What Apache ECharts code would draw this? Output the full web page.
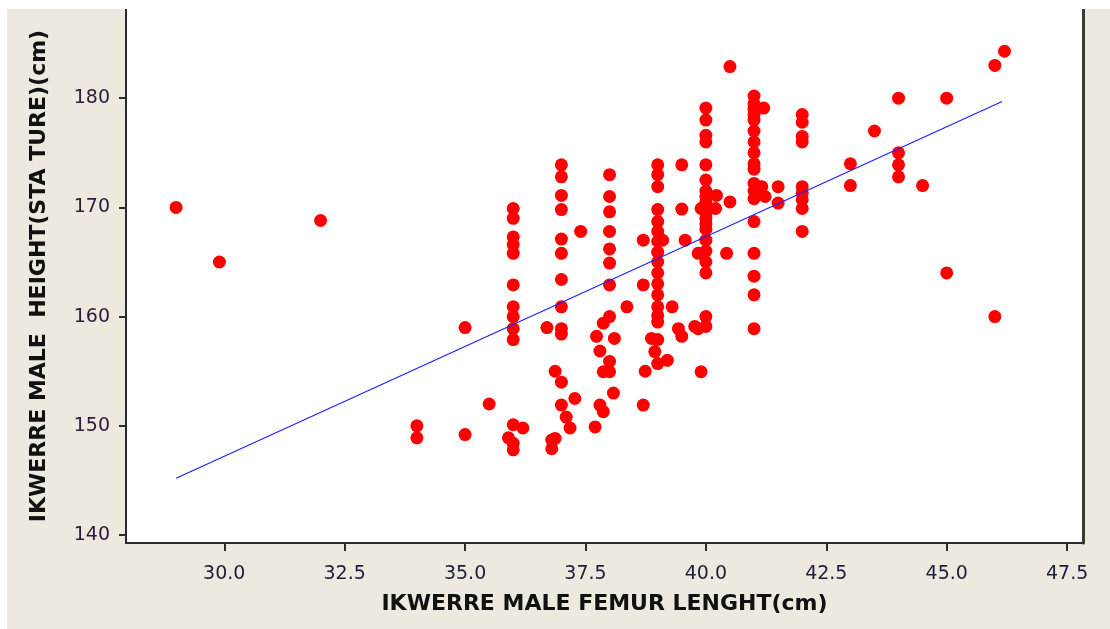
<!doctype html>
<html><head><meta charset="utf-8">
<script src="https://cdn.jsdelivr.net/npm/echarts@6/dist/echarts.min.js"></script>
</head>
<body style="margin:0;background:#ffffff;width:1110px;height:629px;overflow:hidden">
<div id="chart" style="position:absolute;left:7px;top:9px;width:1103px;height:620px;background:#EDE9DF"></div>
<script type="text/javascript">
// femur length (cm) and stature (cm), one entry per man
var femur = [
    29, 29.9, 32, 34, 34, 35, 35, 35.5,
    36, 36, 36, 36, 36, 36, 36, 36, 36, 36, 36, 36, 36, 36.2, 35.9,
    36.7, 36.8, 36.8, 36.87,
    37, 37, 37, 37, 37, 37, 37, 37, 37, 37, 37, 37, 37.1, 37.18, 36.87, 37.28, 37.4,
    38, 38, 38, 38, 38, 38, 38,
    38, 37.87, 38.1, 37.73, 37.8, 38, 37.87, 38, 38.08, 37.8, 37.87, 37.7,
    38.36, 38.7, 38.7, 38.7, 38.74, 38.87, 38.94,
    39, 39, 39, 39, 39, 39, 39, 39, 39, 39, 39, 39, 39, 39, 39, 39, 39, 39.2,
    39.1, 39.3, 39.5, 39.5, 39.57, 39.43, 39.5, 39.84, 39.9,
    40, 40, 40, 40, 40, 40, 40, 40, 40, 40, 40, 40, 40, 40, 40, 40, 40, 40, 40, 40,
    39.77, 40.22, 39.9, 40.2, 40.5, 40.43, 39.84, 40.5,
    41, 41, 41, 41, 41, 41, 41, 41, 41, 41, 41, 41, 41, 41, 41, 41, 41, 41,
    41.2, 41.16, 41.23, 41.5, 41.5,
    42, 42, 42, 42, 42, 42, 42, 42, 42,
    43, 43, 43.5, 44, 44, 44, 44, 44.5, 45, 45, 46, 46.2, 46
];
var stature = [
    170, 165, 168.8, 150, 148.9, 159, 149.2, 152,
    169.9, 169, 167.3, 166.6, 165.8, 162.9, 160.9, 160, 158.9, 157.9, 150.1, 147.8, 148.4, 149.8, 148.9,
    159, 147.9, 148.7, 155,
    173.9, 172.8, 171.1, 169.8, 167.1, 165.8, 163.4, 160.9, 158.9, 158.4, 154, 151.9, 150.8, 149.8, 148.85, 152.5, 167.8,
    173, 171, 169.6, 167.8, 166.2, 164.9, 162.9,
    160, 159.4, 158, 158.2, 156.85, 155.9, 154.95, 154.95, 153, 151.9, 151.3, 149.9,
    160.9, 167, 162.9, 151.9, 155, 158, 156.8,
    173.9, 173, 171.9, 169.8, 168.7, 167.8, 166.9, 165.9, 165, 164, 163, 162, 160.9, 160.1, 159.5, 157.9, 155.7, 156,
    167, 160.9, 173.9, 169.85, 167, 158.9, 158.2, 158.9, 154.95,
    179.1, 178, 176.6, 176, 173.9, 172.5, 171.5, 171, 170.5, 170, 169.5, 169, 168.5, 168, 167, 166, 165, 164, 160, 159.1,
    159.1, 171.1, 169.9, 169.9, 170.5, 165.8, 165.8, 182.9,
    180.2, 179.5, 179, 178.5, 178, 177, 176, 175, 174, 173.5, 172.2, 171.5, 170.8, 168.7, 165.8, 163.7, 162, 158.9,
    179.1, 171.9, 171, 171.9, 170.4,
    178.5, 177.8, 176.5, 176, 171.9, 171.3, 170.7, 169.9, 167.8,
    174, 172, 177, 180, 175, 173.9, 172.8, 172, 180, 164, 183, 184.3, 160
];

// fitted line, read at its two ends
var fitFemur = [29, 46.15];
var fitStature = [145.2, 179.7];

var xTicks = [30, 32.5, 35, 37.5, 40, 42.5, 45, 47.5];
var yTicks = [140, 150, 160, 170, 180];

var points = femur.map(function (f, i) { return [f, stature[i]]; });
var fitLine = fitFemur.map(function (f, i) { return [f, fitStature[i]]; });

var myChart = echarts.init(document.getElementById('chart'));

var option = {
    animation: false,
    grid: {
        left: 119, right: 27, top: 0, bottom: 86,
        show: true, backgroundColor: '#ffffff', borderWidth: 0
    },
    xAxis: {
        type: 'value',
        min: 27.96, max: 47.83,
        splitLine: {show: false},
        axisLine: {onZero: false, lineStyle: {color: '#2b2b2b', width: 2}},
        axisTick: {length: 8, lineStyle: {color: '#2b2b2b', width: 2}, customValues: xTicks},
        axisLabel: {
            customValues: xTicks,
            margin: 22,
            color: '#1e1e3c',
            fontFamily: 'DejaVu Sans',
            fontSize: 19,
            formatter: function (v) { return v.toFixed(1); }
        },
        name: 'IKWERRE MALE FEMUR LENGHT(cm)',
        nameLocation: 'middle',
        nameGap: 50,
        nameTextStyle: {color: '#111', fontFamily: 'DejaVu Sans', fontWeight: 'bold', fontSize: 22}
    },
    yAxis: [{
        type: 'value',
        min: 139.27, max: 188.17,
        splitLine: {show: false},
        axisLine: {onZero: false, lineStyle: {color: '#2b2b2b', width: 2}},
        axisTick: {length: 7, lineStyle: {color: '#2b2b2b', width: 2}, customValues: yTicks},
        axisLabel: {
            customValues: yTicks,
            margin: 16,
            color: '#2e1a3c',
            fontFamily: 'DejaVu Sans',
            fontSize: 19
        },
        name: 'IKWERRE MALE  HEIGHT(STA TURE)(cm)',
        nameLocation: 'middle',
        nameGap: 76,
        nameTextStyle: {color: '#111', fontFamily: 'DejaVu Sans', fontWeight: 'bold', fontSize: 22}
    }, {
        type: 'value',
        position: 'right',
        min: 139.27, max: 188.17,
        splitLine: {show: false},
        axisLine: {show: true, lineStyle: {color: '#3a3a3a', width: 3}},
        axisTick: {show: false},
        axisLabel: {show: false}
    }],
    series: [
        {
            type: 'scatter',
            data: points,
            symbol: 'circle',
            symbolSize: 13,
            itemStyle: {color: '#ff0000', opacity: 1},
            z: 3
        },
        {
            type: 'line',
            data: fitLine,
            showSymbol: false,
            silent: true,
            lineStyle: {color: '#1f1fff', width: 1.2},
            z: 4
        }
    ]
};

myChart.setOption(option);
</script>
</body></html>
